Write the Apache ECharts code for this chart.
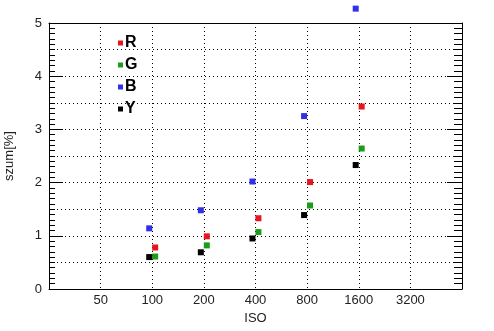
<!DOCTYPE html>
<html>
<head>
<meta charset="utf-8">
<script src="https://cdn.jsdelivr.net/npm/echarts@6/dist/echarts.min.js"></script>
<style>
html,body{margin:0;padding:0;background:#fff;}
#main{width:494px;height:331px;}
</style>
</head>
<body>
<div id="main"></div>
<script>
// ISO ticks (base of the log axis is 25)
var isoBase = 25;
var isoTicks = [25, 50, 100, 200, 400, 800, 1600, 3200, 6400];
var isoR = [104, 208, 416, 832, 1664];
var isoG = [104, 208, 416, 832, 1664];
var isoB = [96, 192, 384, 768, 1536];
var isoY = [96, 192, 384, 768, 1536];
var valR = [0.78, 0.99, 1.33, 2.01, 3.43];
var valG = [0.61, 0.82, 1.07, 1.57, 2.64];
var valB = [1.14, 1.48, 2.02, 3.25, 5.27];
var valY = [0.60, 0.69, 0.95, 1.39, 2.33];

var font = 'Liberation Sans';

function pts(xs, ys){
	var out = [];
	for(var i=0;i<xs.length;i++){
		out.push([Math.log2(xs[i]/isoBase), ys[i]]);
	}
	return out;
}
function ser(name, color, xs, ys){
	return {
		name: name,
		type: 'scatter',
		symbol: 'rect',
		symbolSize: 6,
		clip: false,
		itemStyle: {color: color, opacity: 1},
		data: pts(xs, ys)
	};
}
// every layer sits on the same rectangle
function box(){
	return {left: 49, top: 23, right: 32, bottom: 42, outerBoundsMode: 'none', containLabel: false};
}
// hidden x axis; for right-hand layers keep 0 out of range so the y axis stays on the right
function hiddenX(g, right){
	return {gridIndex: g, type: 'value', min: right ? 1 : 0, max: right ? 9 : 8, show: false};
}
function majorAxis(g, pos, len){
	return {
		gridIndex: g, type: 'value', min: 0, max: 5, position: pos,
		axisLine: {show: true, lineStyle: {color: '#000'}},
		axisTick: {show: true, inside: true, length: len, lineStyle: {color: '#000'}},
		axisLabel: {show: false},
		splitLine: {show: false}
	};
}
// y axis that only draws the small inward ticks (every 0.1)
function minorAxis(g, pos, len){
	return {
		gridIndex: g, type: 'value', min: 0, max: 5, position: pos,
		axisLine: {show: false},
		axisTick: {show: true, inside: true, length: 1, lineStyle: {color: 'rgba(0,0,0,0)'}},
		minorTick: {show: true, splitNumber: 10, length: len, lineStyle: {color: '#000'}},
		axisLabel: {show: false},
		splitLine: {show: false}
	};
}

var myChart = echarts.init(document.getElementById('main'));
var dotted = {color: '#000', width: 1, type: [1, 3]};
myChart.setOption({
	animation: false,
	backgroundColor: '#fff',
	grid: [box(), box(), box(), box(), box(), box()],
	legend: {
		orient: 'vertical', left: 118, top: 35, itemGap: 6, padding: 0,
		icon: 'rect', itemWidth: 5, itemHeight: 5,
		itemStyle: {opacity: 1},
		textStyle: {fontFamily: font, fontSize: 16, fontWeight: 'bold', color: '#000', padding: [0,0,0,-3]},
		data: ['R', 'G', 'B', 'Y']
	},
	xAxis: [{
		gridIndex: 0, type: 'value', min: 0, max: 8, interval: 1, position: 'bottom',
		name: 'ISO', nameLocation: 'middle', nameGap: 23,
		nameTextStyle: {fontFamily: font, fontSize: 13, color: '#222'},
		axisLine: {show: true, lineStyle: {color: '#000'}},
		axisTick: {show: false},
		axisLabel: {
			fontFamily: font, fontSize: 13, color: '#222', margin: 5,
			formatter: function(v){
				if(v <= 0 || v >= 8) return '';
				return isoTicks[Math.round(v)];
			}
		},
		splitLine: {show: true, lineStyle: dotted}
	},
	hiddenX(1, true), hiddenX(2, false), hiddenX(3, true), hiddenX(4, false),
	{
		gridIndex: 5, type: 'value', min: 0, max: 8, position: 'top',
		axisLine: {show: true, onZero: false, lineStyle: {color: '#000'}},
		axisTick: {show: false}, axisLabel: {show: false}, splitLine: {show: false}
	}],
	yAxis: [{
		gridIndex: 0, type: 'value', min: 0, max: 5, position: 'left',
		name: 'szum[%]', nameLocation: 'middle', nameGap: 33,
		nameTextStyle: {fontFamily: font, fontSize: 13, color: '#222'},
		axisLine: {show: true, lineStyle: {color: '#000'}},
		axisTick: {show: true, inside: true, length: 14, lineStyle: {color: '#000'}},
		axisLabel: {fontFamily: font, fontSize: 13, color: '#222', margin: 7},
		splitLine: {show: false}
	},
	majorAxis(1, 'right', 15),
	minorAxis(2, 'left', 6),
	minorAxis(3, 'right', 8),
	{
		gridIndex: 4, type: 'value', min: 0, max: 5, splitNumber: 10, position: 'left',
		axisLine: {show: false}, axisTick: {show: false}, axisLabel: {show: false},
		splitLine: {show: true, lineStyle: dotted}
	}, {
		gridIndex: 5, type: 'value', min: 0, max: 5, show: false
	}],
	series: [
		ser('R', '#e8141e', isoR, valR),
		ser('G', '#1a9e1a', isoG, valG),
		ser('B', '#3030e6', isoB, valB),
		ser('Y', '#000000', isoY, valY)
	]
});
</script>
</body>
</html>
